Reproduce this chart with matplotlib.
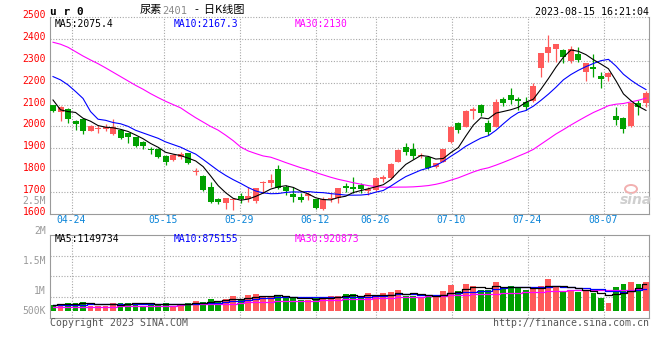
import numpy as np
import pandas as pd
import matplotlib
matplotlib.use("Agg")
import matplotlib.pyplot as plt
from matplotlib import transforms
from matplotlib.patches import Ellipse

# 尿素2401 daily candles, 2023-04-19 .. 2023-08-15 (80 trading days)
opens = [2098, 2066, 2081, 2026, 2033, 1981, 1989, 1988, 1966, 1984,
         1969, 1950, 1928, 1893, 1895, 1865, 1847, 1862, 1877, 1792,
         1773, 1725, 1670, 1648, 1662, 1682, 1670, 1661, 1740, 1743,
         1804, 1725, 1691, 1679, 1680, 1667, 1621, 1670, 1671, 1728,
         1725, 1732, 1707, 1709, 1758, 1763, 1839, 1908, 1898, 1866,
         1862, 1813, 1839, 1930, 2017, 1999, 2069, 2097, 2017, 1999,
         2126, 2144, 2126, 2112, 2118, 2266, 2338, 2356, 2350, 2301,
         2332, 2251, 2274, 2231, 2228, 2048, 2040, 2004, 2106, 2109]
highs = [2100, 2092, 2083, 2030, 2040, 2005, 2005, 2010, 2033, 1990,
         1972, 1952, 1935, 1908, 1900, 1868, 1872, 1884, 1880, 1808,
         1776, 1748, 1672, 1673, 1672, 1697, 1725, 1720, 1752, 1781,
         1822, 1732, 1725, 1694, 1702, 1670, 1675, 1694, 1720, 1740,
         1767, 1740, 1725, 1767, 1778, 1831, 1895, 1925, 1923, 1880,
         1865, 1835, 1898, 2001, 2022, 2075, 2087, 2103, 2030, 2124,
         2136, 2174, 2136, 2136, 2197, 2338, 2418, 2378, 2352, 2368,
         2365, 2292, 2332, 2251, 2248, 2090, 2042, 2109, 2121, 2162]
lows = [2068, 2026, 2017, 1984, 1966, 1978, 1968, 1980, 1962, 1942,
        1926, 1908, 1895, 1875, 1856, 1824, 1842, 1852, 1828, 1778,
        1706, 1648, 1643, 1621, 1618, 1650, 1656, 1648, 1695, 1725,
        1714, 1686, 1655, 1656, 1664, 1624, 1620, 1656, 1651, 1702,
        1694, 1695, 1686, 1706, 1747, 1758, 1836, 1868, 1850, 1855,
        1805, 1808, 1836, 1923, 1969, 1996, 2033, 2048, 1961, 1997,
        2094, 2103, 2075, 2075, 2113, 2228, 2296, 2296, 2292, 2292,
        2296, 2209, 2228, 2175, 2209, 2007, 1972, 1996, 2052, 2091]
closes = [2071, 2090, 2033, 2013, 1981, 2002, 1991, 1996, 1999, 1946,
          1953, 1911, 1910, 1891, 1859, 1838, 1869, 1876, 1834, 1794,
          1709, 1656, 1655, 1671, 1665, 1667, 1680, 1717, 1748, 1755,
          1717, 1707, 1679, 1664, 1690, 1628, 1667, 1672, 1717, 1720,
          1712, 1713, 1712, 1763, 1767, 1828, 1892, 1882, 1865, 1868,
          1808, 1831, 1895, 1999, 1984, 2071, 2081, 2063, 1976, 2113,
          2109, 2121, 2118, 2091, 2185, 2335, 2365, 2377, 2319, 2353,
          2304, 2289, 2261, 2219, 2246, 2030, 1988, 2106, 2088, 2155]
# volume, thousands of lots
volume_k = [767, 789, 806, 806, 822, 750, 750, 750, 806, 806,
            806, 806, 752, 806, 770, 806, 750, 767, 806, 839,
            822, 867, 839, 872, 922, 845, 939, 956, 917, 917,
            934, 878, 878, 850, 850, 900, 900, 917, 917, 950,
            950, 878, 967, 900, 967, 984, 1017, 917, 917, 878,
            917, 917, 1000, 1100, 1000, 1117, 1084, 1017, 1017, 1150,
            1067, 1084, 1050, 1017, 1050, 1084, 1200, 1067, 984, 1017,
            984, 1017, 967, 884, 806, 1067, 1117, 1150, 1117, 1150]

# moving averages before enough history is on screen
ma5_head = [2121, 2076, 2068, 2064]
ma10_head = [2228, 2213, 2190, 2160, 2128, 2068, 2033, 2028, 2018]
ma30_head = [2385, 2376, 2362, 2342, 2322, 2304, 2287, 2268, 2248, 2228,
             2208, 2188, 2170, 2150, 2132, 2115, 2100, 2085, 2062, 2040,
             2020, 2000, 1983, 1960, 1935, 1906, 1888, 1876, 1865]
vol_ma5_head = [775, 778, 782, 790]
vol_ma10_head = [765, 768, 770, 772, 775, 776, 778, 780, 782]
vol_ma30_head = [738, 739, 739, 740, 740, 741, 741, 742, 742, 743,
                 744, 745, 746, 748, 750, 752, 755, 775, 777, 779,
                 781, 783, 785, 788, 792, 806, 809, 812, 816]

date_ticks = ["04-24", "05-15", "05-29", "06-12", "06-26", "07-10", "07-24", "08-07"]
date_idx = [3, 15, 25, 35, 43, 53, 63, 73]
price_ticks = [1600, 1700, 1800, 1900, 2000, 2100, 2200, 2300, 2400, 2500]
vol_ticks = [500000, 1000000, 1500000, 2000000, 2500000]
vol_tick_labels = ["500K", "1M", "1.5M", "2M", "2.5M"]

RED = "#ff5a5a"
GREEN = "#00a000"
GRID = "#a8a8a8"
FRAME = "#9a9a9a"
MONO = "DejaVu Sans Mono"
CJK = ["Noto Sans CJK SC", "DejaVu Sans"]

W, H = 660, 360


def fx(px):
    return px / W


def fy(py):
    return 1 - py / H


o = np.array(opens, float)
hi = np.array(highs, float)
lo = np.array(lows, float)
c = np.array(closes, float)
vol = np.array(volume_k, float) * 1000
x = np.arange(len(c))
up = c >= o
colors = np.where(up, RED, GREEN)


def with_head(values, window, head):
    ma = pd.Series(values).rolling(window).mean().to_numpy()
    ma[:window - 1] = head
    return ma


ma5 = with_head(c, 5, ma5_head)
ma10 = with_head(c, 10, ma10_head)
ma30 = with_head(c, 30, ma30_head)
vma5 = with_head(vol, 5, np.array(vol_ma5_head) * 1000)
vma10 = with_head(vol, 10, np.array(vol_ma10_head) * 1000)
vma30 = with_head(vol, 30, np.array(vol_ma30_head) * 1000)

fig = plt.figure(figsize=(6.6, 3.6), dpi=100)
fig.patch.set_facecolor("white")

# candle slots are 7.506 px wide, first candle centred at px 53
px_per = 7.506
x0 = 53.0
xlim = ((50 - x0) / px_per, (649.3 - x0) / px_per)
# sina spaces its date grid a touch wider than the candles
grid_x = (np.array(date_idx) * 7.6 - 3.5) / px_per

ax = fig.add_axes([fx(50), fy(213.9), fx(599.3), (213.9 - 17.1) / H])
axv = fig.add_axes([fx(50), fy(318.3), fx(599.3), (318.3 - 234.7) / H])

for a in (ax, axv):
    a.set_xlim(*xlim)
    a.set_xticks([])
    a.set_yticks([])
    a.set_facecolor("white")
    for s in a.spines.values():
        s.set_color(FRAME)
        s.set_linewidth(0.8)
    for gx in grid_x:
        a.axvline(gx, color=GRID, lw=0.8, ls=(0, (1, 1.5)), zorder=0)

# ---- price panel ----
ax.set_ylim(1600, 2500)
ax.spines["top"].set_visible(False)
for p in price_ticks[1:]:
    ax.axhline(p, color=GRID, lw=0.8, ls=(0, (1, 1.5)), zorder=0, clip_on=False)

min_body = 4.6  # about one pixel
body_bottom = np.minimum(o, c)
body_h = np.maximum(np.abs(c - o), min_body)
ax.vlines(x, lo, hi, colors=colors, lw=0.9, zorder=2)
ax.bar(x, body_h, bottom=body_bottom, width=0.8, color=colors, lw=0, zorder=3)

ax.plot(x, ma30, color="#ff00ff", lw=0.8, zorder=4)
ax.plot(x, ma10, color="#0000ff", lw=0.8, zorder=4)
ax.plot(x, ma5, color="black", lw=0.8, zorder=5)

price_lbl = transforms.offset_copy(
    transforms.blended_transform_factory(fig.transFigure, ax.transData),
    fig=fig, x=0, y=2, units="dots")
for p in price_ticks:
    ax.text(fx(46), p, str(p), transform=price_lbl, ha="right", va="center",
            color="red", fontsize=7, family=MONO, clip_on=False)

date_tr = transforms.blended_transform_factory(ax.transData, fig.transFigure)
for gx, lab in zip(grid_x, date_ticks):
    ax.text(gx - 0.1, fy(220.3), lab, transform=date_tr, ha="center", va="center",
            color="#0a84d8", fontsize=7, family=MONO, clip_on=False)

# ---- volume panel ----
base = 672000
vpx = 500000 / 30.0
axv.set_ylim(base - 7.6 * vpx, base + 76 * vpx)
vlo, vhi = axv.get_ylim()
for g in np.linspace(vlo, vhi, 5)[1:-1]:
    axv.axhline(g, color=GRID, lw=0.8, ls=(0, (1, 1.5)), zorder=0)

axv.bar(x, vol - base, bottom=base, width=0.78, color=colors, lw=0, zorder=2)
axv.plot(x, vma30, color="#ff00ff", lw=0.9, drawstyle="steps-mid", zorder=3)
axv.plot(x, vma10, color="#0000ff", lw=0.9, drawstyle="steps-mid", zorder=3)
axv.plot(x, vma5, color="black", lw=0.9, drawstyle="steps-mid", zorder=4)

vol_lbl = transforms.blended_transform_factory(fig.transFigure, axv.transData)
for v, lab in zip(vol_ticks, vol_tick_labels):
    axv.text(fx(46), max(v, base), lab, transform=vol_lbl, ha="right", va="center",
             color="#9a9a9a", fontsize=7, family=MONO, clip_on=False)

# ---- header / footer text ----
fig.text(fx(50), fy(12), "u r 0", fontsize=8, family=MONO, fontweight="bold",
         va="center", ha="left")
fig.text(fx(140), fy(10), "尿素", fontsize=8, family=CJK, va="center", ha="left")
fig.text(fx(162.5), fy(10.5), "2401", fontsize=7.5, family=MONO, color="#8a8a8a",
         va="center", ha="left")
fig.text(fx(195), fy(10), "-  日K线图", fontsize=8, family=CJK, va="center", ha="left")
fig.text(fx(649), fy(12), "2023-08-15 16:21:04", fontsize=7.2, family=MONO,
         va="center", ha="right")

fig.text(fx(55), fy(24), "MA5:2075.4", fontsize=7, family=MONO, color="black", va="center")
fig.text(fx(174), fy(24), "MA10:2167.3", fontsize=7, family=MONO, color="#0000ff", va="center")
fig.text(fx(295), fy(24), "MA30:2130", fontsize=7, family=MONO, color="#ff00ff", va="center")

fig.text(fx(55), fy(238.5), "MA5:1149734", fontsize=7, family=MONO, color="black", va="center")
fig.text(fx(174), fy(238.5), "MA10:875155", fontsize=7, family=MONO, color="#0000ff", va="center")
fig.text(fx(295), fy(238.5), "MA30:920873", fontsize=7, family=MONO, color="#ff00ff", va="center")

fig.text(fx(50), fy(323.3), "Copyright 2023 SINA.COM", fontsize=7.1, family=MONO,
         color="#555555", va="center", ha="left")
fig.text(fx(649), fy(323.3), "http://finance.sina.com.cn", fontsize=7.1, family=MONO,
         color="#555555", va="center", ha="right")

# sina watermark
fig.patches.append(Ellipse((fx(631), fy(189)), fx(12), 8 / H, transform=fig.transFigure,
                           facecolor="none", edgecolor="#f2b0b0", lw=1.4))
fig.text(fx(636), fy(199.5), "sina", fontsize=10, style="italic", fontweight="bold",
         color="#cfcfcf", ha="center", va="center")

fig.savefig("out.png", dpi=100)
